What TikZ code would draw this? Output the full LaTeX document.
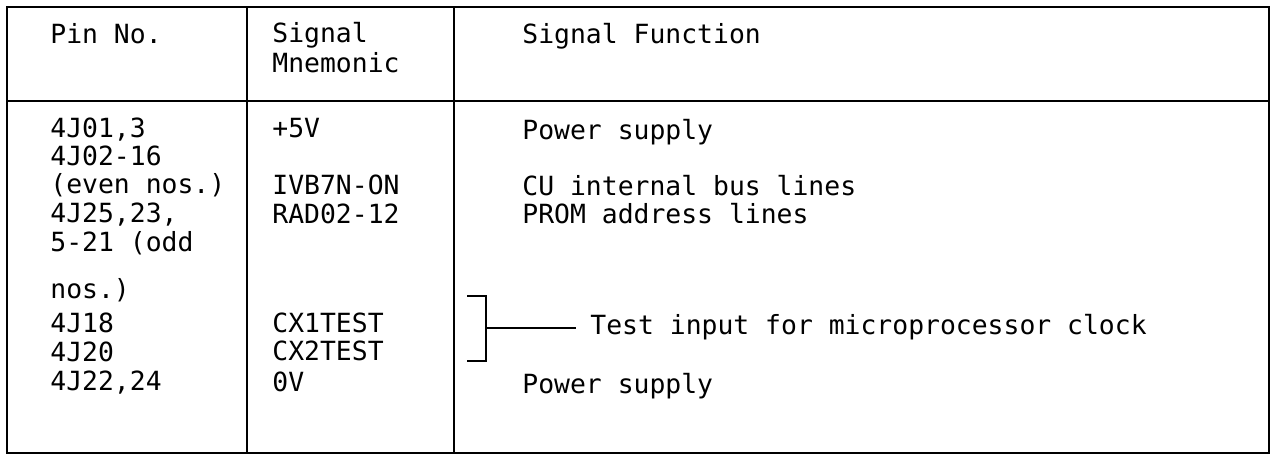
\documentclass[tikz,border=0pt]{standalone}
\usepackage{fontspec}
\usepackage{tikz}
\newfontfamily\tabfont{DejaVu Sans Mono}
\tikzset{
	celltext/.style={anchor=base west, inner sep=0pt, font=\tabfont\fontsize{13.2pt}{15pt}\selectfont},
	rule/.style={line width=0.9pt, color=black}
}

\begin{document}
\begin{tikzpicture}[x=0.5pt,y=-0.5pt]
			\useasboundingbox (0,0) rectangle (1272,457);
			\coordinate (tl) at (7,7);
			\coordinate (br) at (1269,453);
			\coordinate (ha) at (7,101);
			\coordinate (hb) at (1269,101);
			\coordinate (ca) at (247,7);
			\coordinate (cb) at (247,453);
			\coordinate (da) at (454,7);
			\coordinate (db) at (454,453);
			\draw [rule] (tl) rectangle (br);
			\draw [rule] (ha)-- (hb);
			\draw [rule] (ca)-- (cb);
			\draw [rule] (da)-- (db);
			
			\node (pinhd) [celltext] at (50,43) {Pin No.};
			\node (mnhda) [celltext] at (272,42) {Signal};
			\node (mnhdb) [celltext] at (272,72) {Mnemonic};
			\node (fnhd) [celltext] at (522,43) {Signal Function};
			
			\node (pa) [celltext] at (50,137) {4J01,3};
			\node (pb) [celltext] at (50,165) {4J02-16};
			\node (pc) [celltext] at (50,193) {(even nos.)};
			\node (pd) [celltext] at (50,222) {4J25,23,};
			\node (pe) [celltext] at (50,251) {5-21 (odd};
			\node (pf) [celltext] at (50,298) {nos.)};
			\node (pg) [celltext] at (50,332) {4J18};
			\node (ph) [celltext] at (50,361) {4J20};
			\node (pi) [celltext] at (50,390) {4J22,24};
			
			\node (ma) [celltext] at (272,137) {+5V};
			\node (mc) [celltext] at (272,194) {IVB7N-ON};
			\node (md) [celltext] at (272,223) {RAD02-12};
			\node (mg) [celltext] at (272,332) {CX1TEST};
			\node (mh) [celltext] at (272,360) {CX2TEST};
			\node (mi) [celltext] at (272,391) {0V};
			
			\node (fa) [celltext] at (522,139) {Power supply};
			\node (fc) [celltext] at (522,195) {CU internal bus lines};
			\node (fd) [celltext] at (522,223) {PROM address lines};
			\node (ftest) [celltext] at (590,334) {Test input for microprocessor clock};
			\node (fi) [celltext] at (522,393) {Power supply};
			
			\coordinate (bta) at (467,296);
			\coordinate (btb) at (486,296);
			\coordinate (bba) at (467,361);
			\coordinate (bbb) at (486,361);
			\coordinate (bm) at (486,328);
			\draw [rule] (bta)-- (btb)-- (bbb)-- (bba);
			\draw [rule, shorten >=7pt] (bm)-- (ftest.west |- bm);
		\end{tikzpicture}
\end{document}
